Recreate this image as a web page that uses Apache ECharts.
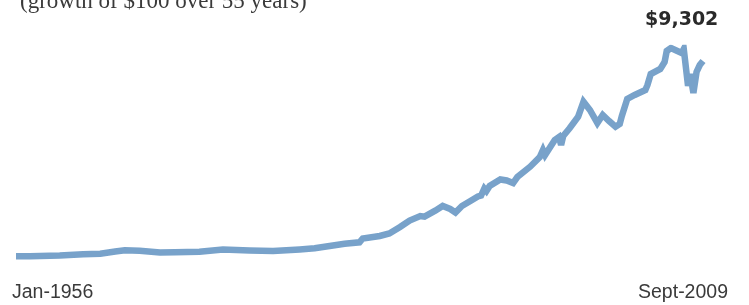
<!DOCTYPE html>
<html>
<head>
<meta charset="utf-8">
<script src="https://cdn.jsdelivr.net/npm/echarts@6/dist/echarts.min.js"></script>
<style>
  html, body { margin: 0; padding: 0; background: #ffffff; }
  #chart { width: 749px; height: 305px; }
</style>
</head>
<body>
<div id="chart"></div>
<script>
// Growth of $100, Jan-1956 to Sept-2009
var dates = [
  '1956-01','1957-02','1959-06','1961-04','1962-08','1963-10','1964-07','1965-09',
  '1967-04','1968-06','1970-05','1972-03','1974-04','1976-02','1978-03','1979-05',
  '1980-07','1981-09','1982-11','1983-02','1984-06','1985-03','1986-01','1986-10',
  '1987-08','1987-12','1988-10','1989-05','1989-12','1990-05','1990-11','1991-07',
  '1992-02','1992-05','1992-08','1992-10','1993-01','1993-11','1994-05','1994-11',
  '1995-03','1996-03','1996-12','1997-03','1997-05','1998-02','1998-06','1998-08',
  '1998-10','1999-04','1999-12','2000-05','2000-11','2001-06','2001-11','2002-05',
  '2002-11','2003-03','2003-05','2003-10','2004-05','2005-03','2005-05','2005-06',
  '2005-08','2006-05','2006-09','2006-11','2007-03','2007-09','2008-01','2008-03',
  '2008-07','2008-09','2008-12','2009-03','2009-06','2009-09'
];
var values = [
  100, 97, 133, 186, 208, 309, 362, 340,
  261, 274, 300, 398, 354, 331, 402, 451,
  552, 650, 716, 884, 994, 1105, 1392, 1679,
  1878, 1847, 2112, 2320, 2187, 2033, 2320, 2541,
  2740, 2784, 3093, 2983, 3204, 3491, 3447, 3336,
  3601, 4057, 4485, 4795, 4574, 5237, 5369, 5016,
  5413, 5754, 6266, 6929, 6562, 5988, 6341, 6076,
  5824, 5944, 6297, 7048, 7225, 7446, 7667, 7711,
  8153, 8374, 8683, 9169, 9302, 9169, 9081, 9258,
  7623, 8153, 7314, 8241, 8550, 8727
];
var subtitle = '(growth of $100 over 55 years)';
var peakLabel = '$9,302';
var tickLabels = ['Jan-1956', 'Sept-2009'];

var seriesData = dates.map(function (d, i) { return [d, values[i]]; });

var chart = echarts.init(document.getElementById('chart'), null, { renderer: 'canvas' });
chart.setOption({
  backgroundColor: '#ffffff',
  animation: false,
  grid: { left: 16, right: 46, top: 48, bottom: 46.5, containLabel: false },
  xAxis: {
    type: 'time',
    min: '1956-01-01',
    max: '2009-09-01',
    show: false
  },
  yAxis: {
    type: 'value',
    min: 0,
    max: 9302,
    show: false
  },
  series: [{
    type: 'line',
    data: seriesData,
    showSymbol: false,
    symbol: 'none',
    lineStyle: { color: '#78a2ca', width: 6.5, join: 'miter', miterLimit: 4, cap: 'butt' }
  }],
  graphic: [
    {
      type: 'text', left: 20, top: -10,
      style: { text: subtitle, font: '23px "Liberation Serif", serif', fill: '#3a3a3a' }
    },
    {
      type: 'text', left: 645, top: 11,
      style: { text: peakLabel, font: 'bold 19px "DejaVu Sans", sans-serif', fill: '#2a2a2a' }
    },
    {
      type: 'text', left: 12, top: 283,
      style: { text: tickLabels[0], font: '19.5px "Liberation Sans", sans-serif', fill: '#3a3a3a' }
    },
    {
      type: 'text', right: 21, top: 283,
      style: { text: tickLabels[1], font: '19.5px "Liberation Sans", sans-serif', fill: '#3a3a3a' }
    }
  ]
});
</script>
</body>
</html>
